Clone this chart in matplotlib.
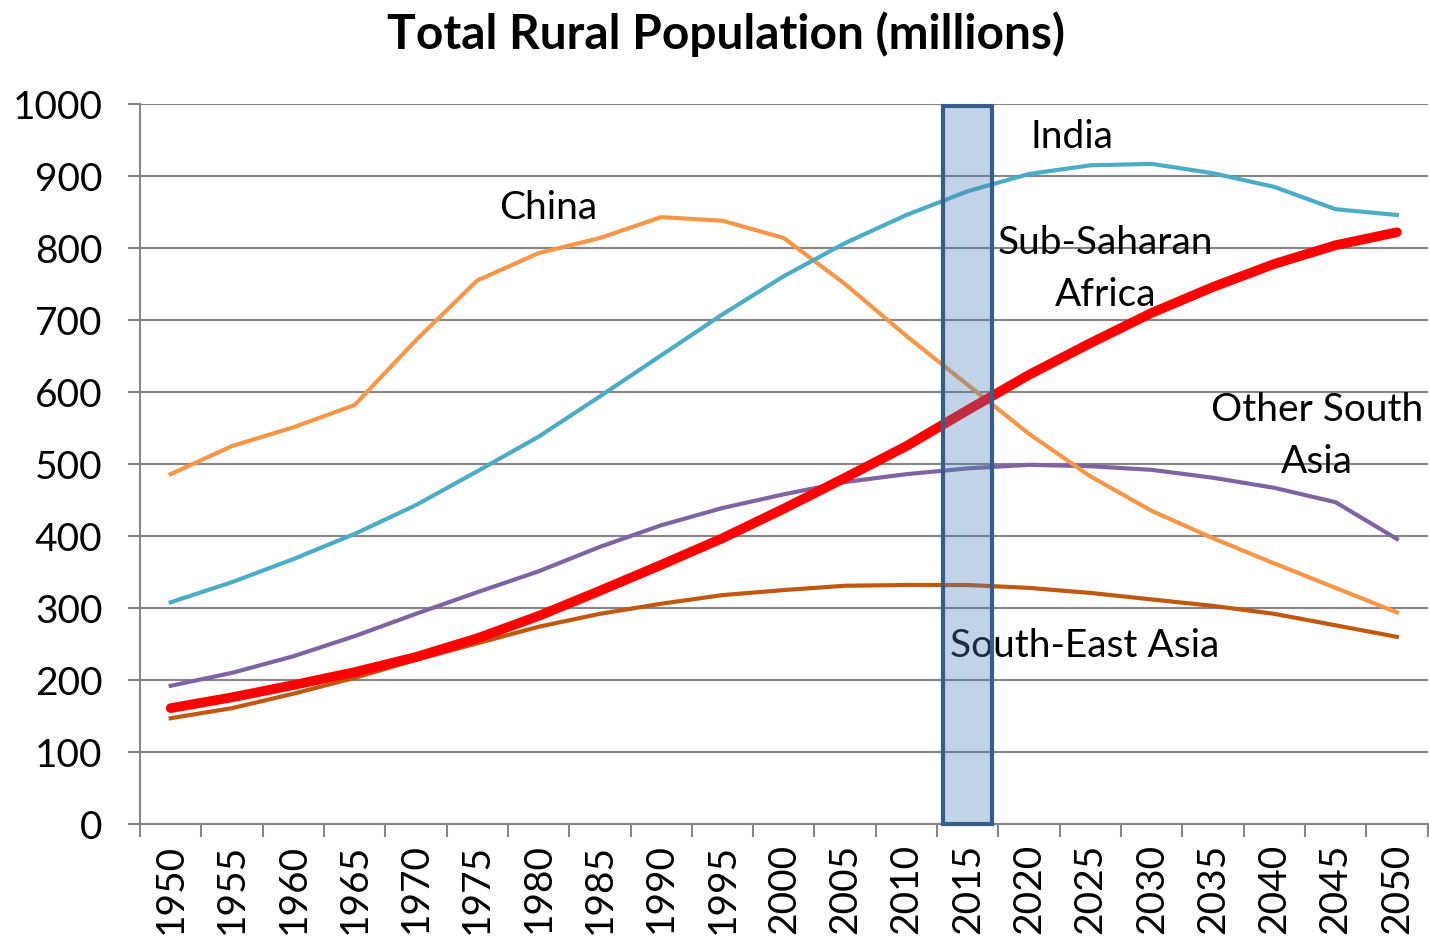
import numpy as np
import matplotlib.pyplot as plt
from matplotlib.patches import Rectangle

# ============ Data ============

years = list(range(1950, 2055, 5))

china = [486, 525, 551, 582, 672, 755, 793, 814, 843, 838, 814,
         750, 678, 610, 542, 483, 435, 397, 362, 328, 294]
india = [308, 336, 368, 403, 443, 490, 538, 594, 651, 708, 761,
         807, 846, 879, 903, 915, 917, 904, 885, 854, 846]
ssa = [161, 176, 193, 211, 232, 258, 289, 324, 360, 397, 438,
       481, 525, 575, 624, 668, 710, 746, 778, 804, 822]
other_sa = [192, 210, 233, 261, 292, 322, 351, 385, 415, 439, 458,
            475, 486, 494, 499, 497, 492, 481, 467, 447, 396]
se_asia = [147, 161, 181, 203, 228, 251, 274, 292, 306, 318, 325,
           331, 332, 332, 328, 321, 312, 303, 292, 276, 260]

highlight_year = 2015

plt.rcParams['font.family'] = ['Lato', 'DejaVu Sans']

fig = plt.figure(figsize=(14.29, 9.38), dpi=100)
ax = fig.add_axes([0.098, 0.1215, 0.901, 0.7675])

x = np.arange(len(years))

ax.plot(x, se_asia, color="#C0580F", lw=3)
ax.plot(x, other_sa, color="#8064A2", lw=3)
ax.plot(x, china, color="#F79646", lw=3)
ax.plot(x, india, color="#4BACC6", lw=3)
ax.plot(x, ssa, color="#FF0000", lw=7, solid_capstyle="round")

# ============ Labels on lines ============

lbl = dict(fontsize=28, ha="center", va="center")
ax.text(6.15, 856, "China", **lbl)
ax.text(14.7, 955, "India", **lbl)
ax.text(15.25, 807, "Sub-Saharan", **lbl)
ax.text(15.25, 735, "Africa", **lbl)
ax.text(18.7, 575, "Other South", **lbl)
ax.text(18.7, 503, "Asia", **lbl)
ax.text(14.9, 247, "South-East Asia", **lbl)

# ============ Highlight box ============

hi = years.index(highlight_year)
ax.add_patch(Rectangle((hi - 0.4, 0), 0.8, 997, facecolor="#4F81BD", alpha=0.35,
                       edgecolor="none", zorder=5))
ax.add_patch(Rectangle((hi - 0.4, 0), 0.8, 997, facecolor="none",
                       edgecolor="#385D8A", lw=3, zorder=6, clip_on=False))

# ============ Axes ============

ax.set_xlim(-0.5, len(years) - 0.5)
ax.set_ylim(0, 1000)
ax.set_yticks(range(0, 1001, 100))
ax.set_xticks(x)
ax.set_xticklabels([str(y) for y in years], rotation=90)
ax.set_xticks(np.arange(-0.5, len(years), 1), minor=True)
ax.tick_params(axis="x", which="major", length=0, labelsize=28, pad=14)
ax.tick_params(axis="x", which="minor", length=9, width=1.5, color="#868686")
ax.tick_params(axis="y", length=9, width=1.5, color="#868686", labelsize=28, pad=18)

ax.grid(axis="y", color="#868686", lw=1.5)
ax.set_axisbelow(True)
for s in ["top", "right"]:
    ax.spines[s].set_visible(False)
for s in ["left", "bottom"]:
    ax.spines[s].set_color("#868686")
    ax.spines[s].set_linewidth(1.5)

fig.suptitle("Total Rural Population (millions)", fontsize=34.5, fontweight="bold",
             x=0.508, y=0.988, va="top")

fig.savefig("out.png", dpi=100)
